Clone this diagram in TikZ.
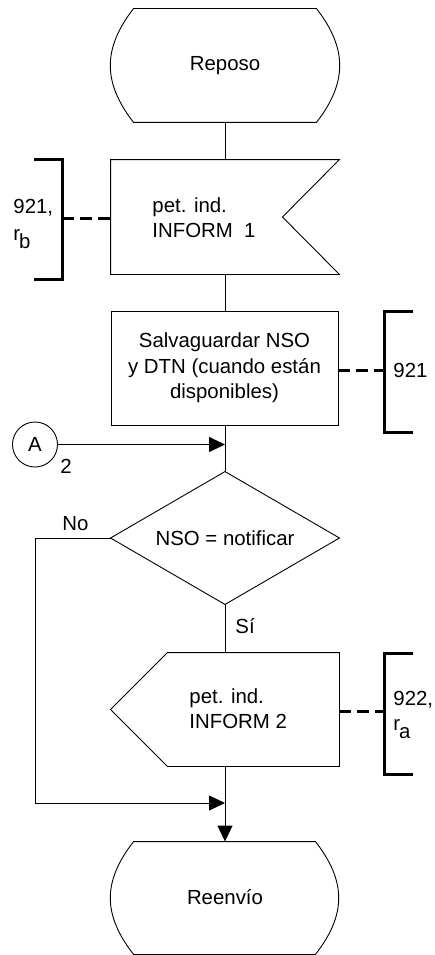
\documentclass[tikz,border=0pt]{standalone}
\usepackage{fontspec}
\setmainfont{Liberation Sans}
\usetikzlibrary{arrows.meta}
\newcommand\statesymbol[1]{%
  \draw ([xshift=23pt]#1.north west) -- ([xshift=-23pt]#1.north east)
    .. controls ([xshift=8pt,yshift=-40pt]#1.north east) and ([xshift=8pt,yshift=40pt]#1.south east) .. ([xshift=-23pt]#1.south east)
    -- ([xshift=23pt]#1.south west)
    .. controls ([xshift=-8pt,yshift=40pt]#1.south west) and ([xshift=-8pt,yshift=-40pt]#1.north west) .. cycle;}
\begin{document}
\begin{tikzpicture}[x=1pt,y=-1pt,
  line width=0.9pt,
  txt/.style={font=\fontsize{20.4}{25.5}\selectfont, inner sep=0pt},
  shapebox/.style={inner sep=0pt, minimum width=228pt},
  bracketline/.style={line width=3pt, line join=miter},
  dashlink/.style={line width=3pt, dash pattern=on 12pt off 6pt},
  flow/.style={-{Triangle[length=16pt,width=15pt]}},
]
\useasboundingbox (0,0) rectangle (435,955);

% symbols
\node[shapebox, minimum height=113pt] (reposo) at (225,65.5) {};
\statesymbol{reposo}
\node[txt] at (reposo.center) {Reposo};

\node[shapebox, minimum height=114pt] (in1) at (225,217) {};
\draw (in1.north west) -- (in1.north east) -- ([xshift=-57pt]in1.east) -- (in1.south east) -- (in1.south west) -- cycle;
\node[txt, anchor=base west] at (152,212) {pet. ind.};
\node[txt, anchor=base west] at (152,237) {INFORM\ \ 1};

\node[draw, txt, minimum width=227pt, minimum height=114pt, align=center] (task) at (224.5,368)
  {Salvaguardar NSO\\y DTN (cuando están\\disponibles)};

\node[circle, draw, txt, minimum size=45pt] (A) at (35,444.5) {A};
\node[txt, anchor=base west] at (60,473) {2};

\node[shapebox, minimum height=132pt] (dec) at (225,538) {};
\draw (dec.north) -- (dec.east) -- (dec.south) -- (dec.west) -- cycle;
\node[txt] at (dec.center) {NSO = notificar};

\node[shapebox, minimum height=113pt] (out1) at (225,709.5) {};
\draw ([xshift=57pt]out1.north west) -- (out1.north east) -- (out1.south east) -- ([xshift=57pt]out1.south west) -- (out1.west) -- cycle;
\node[txt, anchor=base west] at (189,703) {pet. ind.};
\node[txt, anchor=base west] at (189,728) {INFORM 2};

\node[shapebox, minimum width=227pt, minimum height=112pt] (reenvio) at (224.5,898) {};
\statesymbol{reenvio}
\node[txt] at (225,897) {Reenvío};

% connectors
\coordinate (join) at (225,803);
\coordinate (nocorner) at (35,538);
\draw (reposo.south) -- (in1.north);
\draw (in1.south) -- (in1.south |- task.north);
\draw (in1.south |- task.south) -- (dec.north);
\draw[flow] (A.east) -- (A.east -| dec.north);
\draw (dec.south) -- (out1.north);
\draw[flow] (dec.west) -- (nocorner) |- (join);
\draw[flow] (out1.south) -- (out1.south |- reenvio.north);
\node[txt, anchor=base west] at (62,530) {No};
\node[txt, anchor=base west] at (235,633) {Sí};

% comment brackets
\coordinate (bl1) at (62,218);
\draw[bracketline] (34,159) -- (62,159) -- (62,279) -- (34,279);
\draw[dashlink] (bl1) -- (bl1 -| in1.west);
\node[txt, anchor=base west] at (13,213) {921,};
\node[txt, anchor=base west] at (13,240) {r\kern-1pt\raisebox{-8pt}{b}};

\coordinate (br1) at (384,370);
\draw[bracketline] (413,311) -- (384,311) -- (384,432) -- (413,432);
\draw[dashlink] (br1 -| task.east) -- (br1);
\node[txt, anchor=base west] at (393,377) {921};

\coordinate (br2) at (384,711);
\draw[bracketline] (413,653) -- (384,653) -- (384,774) -- (413,774);
\draw[dashlink] (br2 -| out1.east) -- (br2);
\node[txt, anchor=base west] at (393,705) {922,};
\node[txt, anchor=base west] at (393,730) {r\kern-1pt\raisebox{-8pt}{a}};
\end{tikzpicture}
\end{document}
